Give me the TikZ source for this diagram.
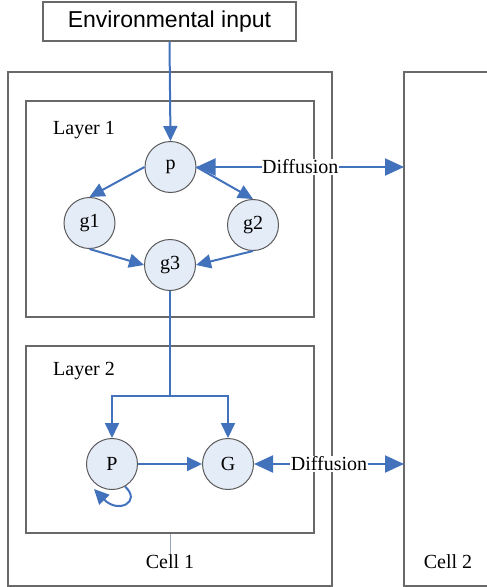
\documentclass[tikz,border=0pt]{standalone}
\usepackage{fontspec}
\setmainfont{Liberation Serif}
\newfontfamily\labelsans{Liberation Sans}
\usetikzlibrary{arrows.meta}
\definecolor{flowblue}{RGB}{66,114,188}
\definecolor{nodefill}{RGB}{228,236,247}
\definecolor{nodeline}{RGB}{90,90,90}
\definecolor{boxline}{RGB}{105,105,105}
\definecolor{pinline}{RGB}{150,165,185}
\tikzset{
  gene/.style={circle, draw=nodeline, fill=nodefill, line width=1pt,
    minimum size=51pt, inner sep=0pt, font=\fontsize{20}{24}\selectfont},
  frame/.style={draw=boxline, line width=1.3pt, rectangle, inner sep=0pt},
  flow/.style={draw=flowblue, line width=2pt,
    -{Triangle[length=15pt, width=14pt]}},
  flowplain/.style={draw=flowblue, line width=2pt},
  twoway/.style={draw=flowblue, line width=2pt,
    {Triangle[length=19pt, width=17pt]}-{Triangle[length=19pt, width=17pt]}},
  serif20/.style={font=\fontsize{20}{24}\selectfont, inner sep=1pt},
}
\begin{document}
\begin{tikzpicture}[x=1pt, y=-1pt]
\useasboundingbox (0,0) rectangle (487,587);

% enclosing boxes
\node[frame, minimum width=253pt, minimum height=39pt,
  font=\labelsans\fontsize{23}{27}\selectfont] (env) at (169.5,21.5) {Environmental input};
\node[frame, minimum width=324pt, minimum height=514pt] (cell1) at (170,329) {};
\node[frame, minimum width=288pt, minimum height=216pt] (layer1) at (170,209) {};
\node[frame, minimum width=288pt, minimum height=187pt] (layer2) at (170,439.5) {};
\draw[draw=boxline, line width=1.3pt] (490,72) -- (404,72) -- (404,586) -- (490,586);

% labels
\node[serif20] (l1) at (84,130) {Layer 1};
\node[serif20] (l2) at (84,371) {Layer 2};
\node[serif20] (c1) at (170,562) {Cell 1};
\node[serif20] (c2) at (448,562) {Cell 2};
\draw[draw=pinline, line width=1pt] (layer2.south) -- (c1.north);

% layer 1 network
\node[gene] (p)  at (170.5,167) {p};
\node[gene] (g1) at (89.5,223) {g1};
\node[gene] (g2) at (253,225) {g2};
\node[gene] (g3) at (170,265) {g3};

% layer 2 network
\node[gene] (P) at (112,464) {P};
\node[gene] (G) at (228,464) {G};

% neighbouring cell attachment points
\coordinate (d1) at (404,167);
\coordinate (d2) at (404,464);
\coordinate (split) at (170,396);

% connectors
\draw[flow] (env.south) -- (p.north);
\draw[flow] (p.west) -- (g1.north);
\draw[flow] (p.east) -- (g2.north);
\draw[flow] (g1.south) -- (g3.west);
\draw[flow] (g2.south) -- (g3.east);
\draw[flowplain] (g3.south) -- (split);
\draw[flow] (split) -| (P.north);
\draw[flow] (split) -| (G.north);
\draw[flow] (P.east) -- (G.west);
\draw[flow] (P.-60) .. controls (142,502) and (118,514) .. (94,489);

\draw[twoway] (p.east) -- node[fill=white, serif20, inner sep=0.5pt] {Diffusion} (d1);
\draw[twoway] (G.east) -- node[fill=white, serif20, inner sep=0.5pt] {Diffusion} (d2);
\end{tikzpicture}
\end{document}
